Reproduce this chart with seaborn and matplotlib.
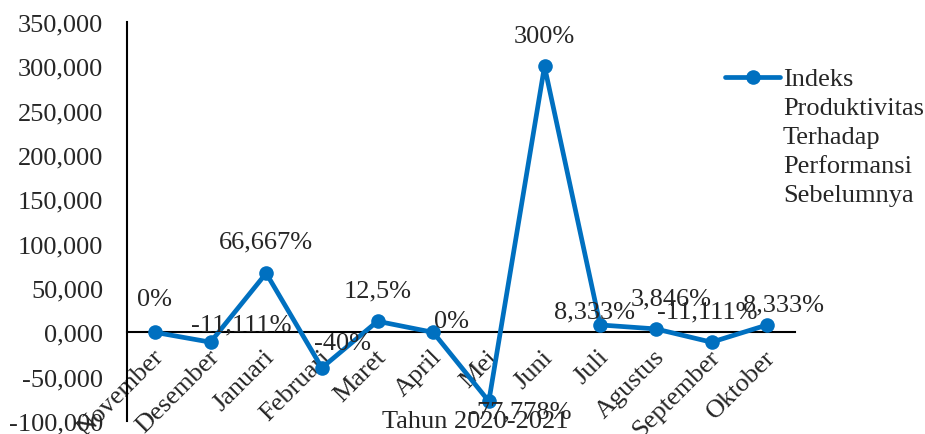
import matplotlib
matplotlib.use("Agg")
import matplotlib.pyplot as plt
import matplotlib.transforms as mtransforms
import seaborn as sns
import pandas as pd

# ---- data ----
months = ["November", "Desember", "Januari", "Februari", "Maret", "April",
          "Mei", "Juni", "Juli", "Agustus", "September", "Oktober"]
values = [0, -11.111, 66.667, -40, 12.5, 0, -77.778, 300, 8.333, 3.846, -11.111, 8.333]
value_labels = ["0%", "-11,111%", "66,667%", "-40%", "12,5%", "0%",
                "-77,778%", "300%", "8,333%", "3,846%", "-11,111%", "8,333%"]
y_ticks = [-100, -50, 0, 50, 100, 150, 200, 250, 300, 350]
series_name = "Indeks\nProduktivitas\nTerhadap\nPerformansi\nSebelumnya"
x_title = "Tahun 2020-2021"

# label offsets (points) for data labels
label_offsets = [(0, 24), (22, 13), (0, 23), (15, 18), (0, 22), (13, 8),
                 (22, -7), (0, 22), (-4, 10), (11, 22), (-3, 22), (12, 15)]

sns.set_style("white")
plt.rcParams["font.family"] = ["Liberation Serif", "DejaVu Serif"]
FS = 19
BLUE = "#0070C0"

df = pd.DataFrame({"x": range(len(months)), "y": values})

fig = plt.figure(figsize=(9.25, 4.35), dpi=100)
ax = fig.add_axes([127 / 925, 1 - 422 / 435, (795 - 127) / 925, (422 - 23) / 435])

sns.lineplot(data=df, x="x", y="y", ax=ax, color=BLUE, linewidth=3.4,
             marker="o", markersize=10.5, markeredgewidth=0, label=series_name,
             zorder=3)

ax.set_xlim(-0.5, len(months) - 0.5)
ax.set_ylim(min(y_ticks), max(y_ticks))
ax.set_yticks(y_ticks)
ax.set_yticklabels([f"{v:.3f}".replace(".", ",") for v in y_ticks], fontsize=FS)
ax.tick_params(axis="y", length=0, pad=17)

ax.spines["top"].set_visible(False)
ax.spines["right"].set_visible(False)
ax.spines["bottom"].set_position(("data", 0))
for s in ("left", "bottom"):
    ax.spines[s].set_color("black")
    ax.spines[s].set_linewidth(1.5)
    ax.spines[s].set_zorder(2)

ax.set_xticks(range(len(months)))
ax.set_xticklabels(months, fontsize=FS, rotation=45, ha="right",
                   rotation_mode="anchor", va="center")
ax.tick_params(axis="x", length=0, pad=15)
offset = mtransforms.ScaledTranslation(5 / 100, 0, fig.dpi_scale_trans)
for lab in ax.get_xticklabels():
    lab.set_transform(lab.get_transform() + offset)

ax.set_xlabel("")
ax.set_ylabel("")
ax.text(0.522, 0.0, x_title, transform=ax.transAxes, ha="center", va="center",
        fontsize=FS)

for i, (v, t) in enumerate(zip(values, value_labels)):
    dx, dy = label_offsets[i]
    ax.annotate(t, (i, v), xytext=(dx, dy), textcoords="offset points",
                ha="center", va="center", fontsize=FS, zorder=4)

leg = ax.legend(loc="upper left", bbox_to_anchor=(0.895, 0.885), frameon=False,
                fontsize=FS, handlelength=2.1, handletextpad=0.1,
                borderaxespad=0, borderpad=0)
for t in leg.get_texts():
    t.set_linespacing(1.42)
for col in leg._legend_handle_box.get_children():
    for hp in col.get_children():
        hp.align = "top"

fig.savefig("out.png", dpi=100)
